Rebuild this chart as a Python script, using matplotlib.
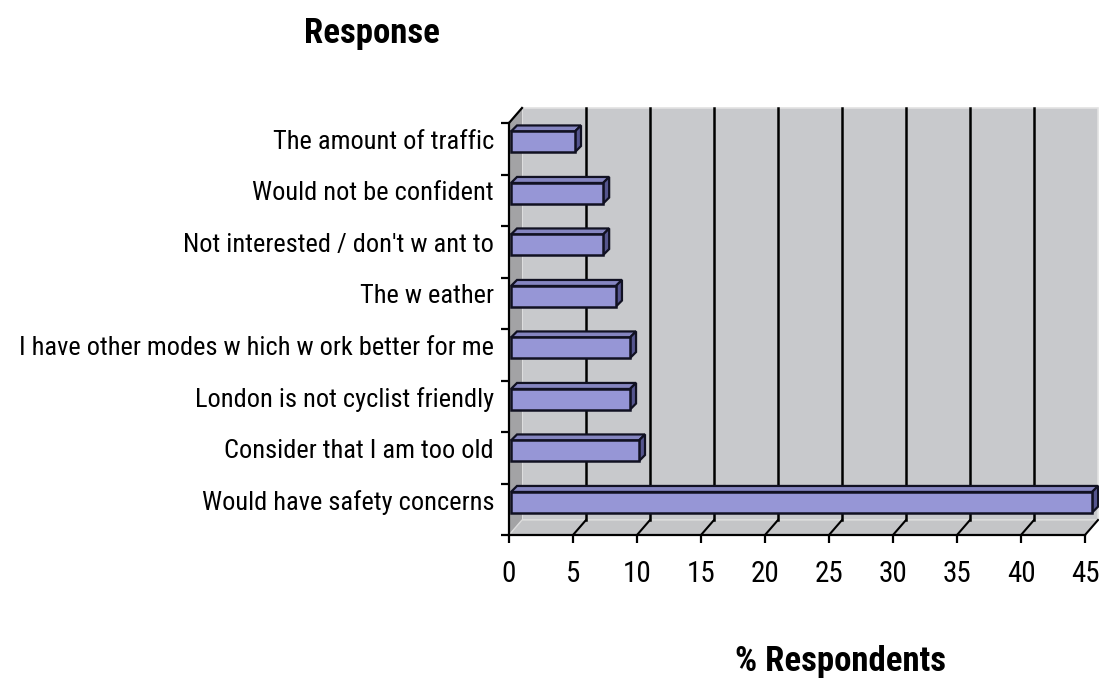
import matplotlib
matplotlib.use("Agg")
import matplotlib.pyplot as plt
from matplotlib.patches import Polygon
from matplotlib.transforms import ScaledTranslation
from matplotlib import font_manager

categories = [
    "Would have safety concerns",
    "Consider that I am too old",
    "London is not cyclist friendly",
    "I have other modes w hich w ork better for me",
    "The w eather",
    "Not interested / don't w ant to",
    "Would not be confident",
    "The amount of traffic",
]
values = [45.4, 10.0, 9.3, 9.3, 8.2, 7.2, 7.2, 5.0]
xticks = [0, 5, 10, 15, 20, 25, 30, 35, 40, 45]
title = "Response"
xlabel = "% Respondents"

names = {f.name for f in font_manager.fontManager.ttflist}
fam = "Roboto Condensed" if "Roboto Condensed" in names else "DejaVu Sans"
plt.rcParams["font.family"] = [fam, "DejaVu Sans"]
plt.rcParams["font.stretch"] = "condensed"

W, H, DPI = 1099, 682, 100
fig = plt.figure(figsize=(W / DPI, H / DPI), dpi=DPI)
ax = fig.add_axes([509 / W, (H - 535) / H, 576 / W, 412 / H])
ax.set_xlim(0, 45)
ax.set_ylim(0, len(categories))
ax.set_facecolor("none")
for s in ["top", "right"]:
    ax.spines[s].set_visible(False)
for s in ["left", "bottom"]:
    ax.spines[s].set_linewidth(1.6)
    ax.spines[s].set_zorder(10)

def off(dx, dy):
    return ax.transData + ScaledTranslation(dx / DPI, dy / DPI, fig.dpi_scale_trans)

BDX, BDY = 13, 15  # back-wall offset in px
tb = off(BDX, BDY)
n = len(categories)
xmax = xticks[-1]

# back wall
ax.add_patch(Polygon([(0, 0), (xmax, 0), (xmax, n), (0, n)], closed=True,
                     facecolor="#C8C9CC", edgecolor="#E2E2E2", lw=1.2,
                     transform=tb, clip_on=False, zorder=1))
# side wall
fig_pts = [ax.transData.transform((0, 0)), ax.transData.transform((0, n)),
           tb.transform((0, n)), tb.transform((0, 0))]
ax.add_patch(Polygon(fig_pts, closed=True, facecolor="#A3A3A5", edgecolor="none",
                     transform=None, clip_on=False, zorder=1.5))
# floor
fpts = [ax.transData.transform((0, 0)), ax.transData.transform((xmax, 0)),
        tb.transform((xmax, 0)), tb.transform((0, 0))]
ax.add_patch(Polygon(fpts, closed=True, facecolor="#C4C5C7", edgecolor="#DCDCDC", lw=1,
                     transform=None, clip_on=False, zorder=1.5))

# back gridlines
for xt in xticks[1:-1]:
    ax.plot([xt, xt], [0, n], color="black", lw=1.8, transform=tb, clip_on=False, zorder=2)
# floor diagonals
for xt in xticks[1:]:
    p0 = ax.transData.transform((xt, 0))
    p1 = tb.transform((xt, 0))
    ax.plot([p0[0], p1[0]], [p0[1], p1[1]], color="black", lw=1.5, transform=None,
            clip_on=False, zorder=2)
# top-left diagonal
p0 = ax.transData.transform((0, n)); p1 = tb.transform((0, n))
ax.plot([p0[0], p1[0]], [p0[1], p1[1]], color="black", lw=1.6, transform=None,
        clip_on=False, zorder=10)

# bars
FDX, FDY = 2, 7
DDX, DDY = 6, 6
bh = 0.40
tf = off(FDX, FDY)
ys = [i + 0.5 for i in range(n)]
ax.barh(ys, values, height=bh, color="#9696D6", edgecolor="#111122", linewidth=1.8,
        transform=tf, clip_on=False, zorder=5)
for y, v in zip(ys, values):
    top = y + bh / 2
    bot = y - bh / 2
    a = tf.transform((0, top)); b = tf.transform((v, top))
    c = b + [DDX, DDY]; d = a + [DDX, DDY]
    ax.add_patch(Polygon([a, b, c, d], closed=True, facecolor="#8585C0",
                         edgecolor="#111122", lw=1.6, transform=None, clip_on=False, zorder=4))
    e = tf.transform((v, bot)); f = e + [DDX, DDY]
    ax.add_patch(Polygon([b, e, f, c], closed=True, facecolor="#55558E",
                         edgecolor="#111122", lw=1.6, transform=None, clip_on=False, zorder=4))

# axes ticks
ax.set_xticks(xticks)
ax.set_xticklabels([str(t) for t in xticks], fontsize=21)
ax.set_yticks(range(n + 1))
ax.set_yticklabels([])
ax.tick_params(axis="both", direction="out", length=6, width=1.6, colors="black")
ax.tick_params(axis="x", pad=12)

lab_tr = ax.get_yaxis_transform() + ScaledTranslation(-15 / DPI, FDY / DPI, fig.dpi_scale_trans)
for y, c in zip(ys, categories):
    ax.text(0, y, c, transform=lab_tr, ha="right", va="center", fontsize=19, color="black")

fig.text(372 / W, 1 - 33 / H, title, ha="center", va="center", fontsize=25, fontweight="bold")
fig.text(840 / W, 1 - 662 / H, xlabel, ha="center", va="center", fontsize=25, fontweight="bold")

fig.savefig("out.png", dpi=DPI)
